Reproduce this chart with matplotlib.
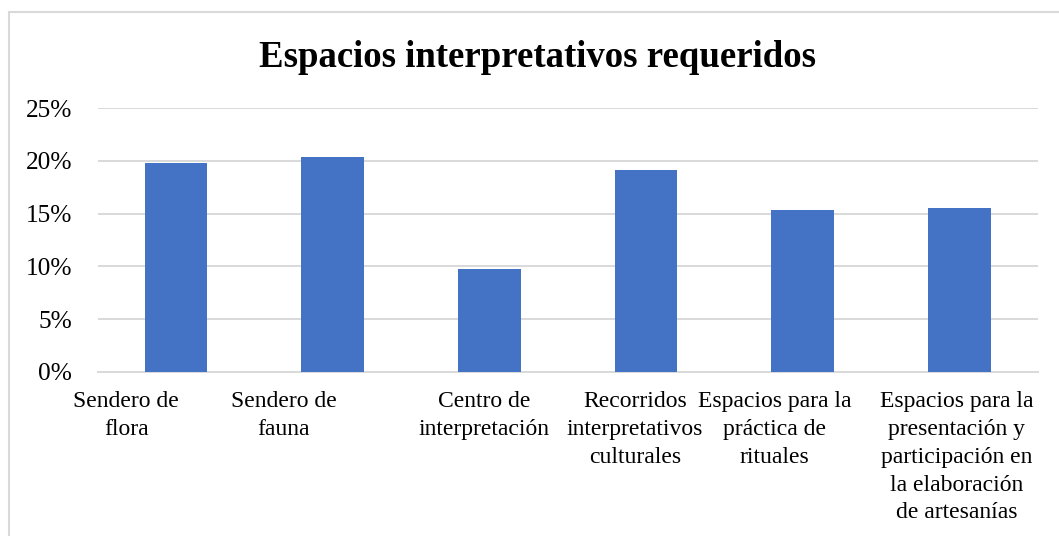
import matplotlib.pyplot as plt
from matplotlib.patches import Rectangle
from matplotlib.ticker import PercentFormatter
from matplotlib.transforms import ScaledTranslation

categories = [
    "Sendero de\nflora",
    "Sendero de\nfauna",
    "Centro de\ninterpretación",
    "Recorridos\ninterpretativos\nculturales",
    "Espacios para la\npráctica de\nrituales",
    "Espacios para la\npresentación y\nparticipación en\nla elaboración\nde artesanías",
]
values = [0.198, 0.204, 0.098, 0.191, 0.153, 0.155]
y_ticks = [0, 0.05, 0.10, 0.15, 0.20, 0.25]

# horizontal nudge (px) of each category label, like Excel's wrapping does
label_shift = [-50, -49, -5, -11, -28, -3]

plt.rcParams['font.family'] = ['Liberation Serif', 'DejaVu Serif']

fig = plt.figure(figsize=(10.59, 5.36), dpi=100)
ax = fig.add_axes([0.0923, 0.306, 0.8877, 0.4925])

x = range(len(categories))
ax.bar(x, values, width=0.4, color='#4472C4', zorder=3)

ax.set_xlim(-0.5, len(categories) - 0.5)
ax.set_ylim(0, 0.25)
ax.set_yticks(y_ticks)
ax.yaxis.set_major_formatter(PercentFormatter(1.0, decimals=0))
ax.set_xticks(list(x))
ax.set_xticklabels(categories, fontsize=17, linespacing=1.42)
ax.tick_params(axis='y', labelsize=18.3, length=0, pad=18.5)
ax.tick_params(axis='x', length=0, pad=14)
for lbl, dx in zip(ax.get_xticklabels(), label_shift):
    lbl.set_transform(lbl.get_transform() + ScaledTranslation(dx / 100, 0, fig.dpi_scale_trans))
ax.grid(axis='y', color='#d9d9d9', linewidth=1.4, zorder=0)
for s in ['top', 'right', 'left']:
    ax.spines[s].set_visible(False)
ax.spines['bottom'].set_color('#d9d9d9')
ax.spines['bottom'].set_linewidth(1.4)

fig.text(0.508, 0.893, "Espacios interpretativos requeridos",
         ha='center', va='center', fontsize=26.5, fontweight='bold')

# chart border
fig.patches.append(Rectangle((8.5 / 1059, -0.05), 1.1, 1 - 11.5 / 536 + 0.05,
                             transform=fig.transFigure, fill=False,
                             edgecolor='#d9d9d9', linewidth=1.5))

fig.savefig('out.png', dpi=100)
